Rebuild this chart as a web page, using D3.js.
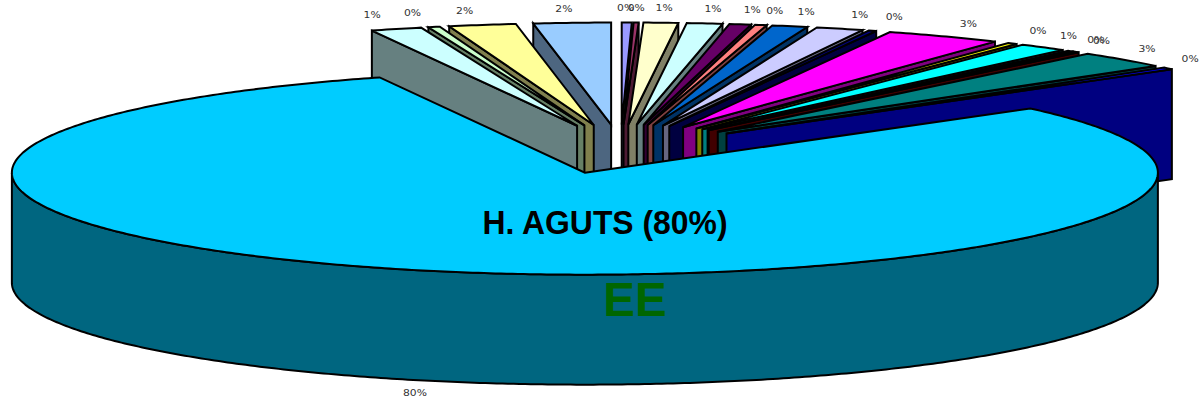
<!DOCTYPE html>
<html><head><meta charset="utf-8">
<script src="https://cdn.jsdelivr.net/npm/d3@7"></script>
<style>html,body{margin:0;padding:0;background:#fff}svg{display:block}</style>
</head><body><div id="chart"></div>
<script>
const shares = [0.28,0.14,0.97,1.0,0.61,0.33,1.0,1.33,0.22,3.28,0.28,1.39,0.17,0.17,2.67,0.33,80,1.44,0.33,1.89,2.17];
const labels = ["0%","0%","1%","1%","1%","0%","1%","1%","0%","3%","0%","1%","0%","0%","3%","0%","80%","1%","0%","2%","2%"];
const colors = ["#9999FF","#993366","#FFFFCC","#CCFFFF","#660066","#FF8080","#0066CC","#CCCCFF","#000080","#FF00FF","#FFFF00","#00FFFF","#800080","#800000","#008080","#0000FF","#00CCFF","#CCFFFF","#CCFFCC","#FFFF99","#99CCFF"];
const mainIndex = 16;
const captions = [["H. AGUTS (80%)"],["EE"]];

const W=1200,H=400, cx=620.5, cy=149, rx=573, ry=102, depth=110, explode=0.24;
const svg=d3.select("#chart").append("svg").attr("width",W).attr("height",H);
const arcs=d3.pie().sort(null).value(d=>d).startAngle(0).endAngle(2*Math.PI)(shares);
const X=d3.scaleLinear().domain([-1,1]).range([-rx,rx]);
const Y=d3.scaleLinear().domain([-1,1]).range([ry,-ry]);
const line=d3.line();
const pts=d=>{
  const m=(d.startAngle+d.endAngle)/2;
  const apex=[cx+explode*X(Math.sin(m)), cy+explode*Y(Math.cos(m))];
  return {m,apex};
};
const onRim=(apex,a,k=1,dz=0)=>[apex[0]+k*X(Math.sin(a)),apex[1]+k*Y(Math.cos(a))+dz];
const rim=(apex,a0,a1,dz=0)=>{
  const n=Math.max(2,Math.ceil(Math.abs(a1-a0)/0.01)),out=[];
  for(let i=0;i<=n;i++) out.push(onRim(apex,a0+(a1-a0)*i/n,1,dz));
  return out;
};
const order=[];
// back to front: outward from twelve o'clock on both sides, main slice last
for(let i=0;i<mainIndex;i++) order.push(i);
for(let i=arcs.length-1;i>mainIndex;i--) order.push(i);
order.push(mainIndex);
const g=svg.append("g").attr("stroke","#000").attr("stroke-width",2).attr("stroke-linejoin","miter");
const dark=c=>{const r=d3.rgb(c);return d3.rgb(r.r/2,r.g/2,r.b/2).formatHex();};
order.forEach(i=>{
  const d=arcs[i],{apex}=pts(d),c=colors[i],w=dark(c);
  if(i===mainIndex){
    // outer wall, only the part that faces the viewer
    const a0=Math.PI/2,a1=3*Math.PI/2;
    const top=rim(apex,a0,a1),bot=rim(apex,a1,a0,depth);
    g.append("path").attr("d",line(top.concat(bot))+"Z").attr("fill",w);
  } else {
    // radial wall: the edge that faces the viewer hangs below it
    const e=i<mainIndex?d.endAngle:d.startAngle;
    const p=onRim(apex,e);
    g.append("path").attr("d",line([apex,p,[p[0],p[1]+depth],[apex[0],apex[1]+depth]])+"Z").attr("fill",w);
  }
  g.append("path").attr("d",line([apex].concat(rim(apex,d.startAngle,d.endAngle)))+"Z").attr("fill",c);
});
// percentage labels
const lab=svg.append("g").attr("font-family","DejaVu Sans").attr("font-size",8).attr("fill","#333");
arcs.forEach((d,i)=>{
  const {m,apex}=pts(d);
  const s=Math.sin(m);
  const x=apex[0]+(1.17-0.15*Math.abs(s))*X(s)-2;
  const y=apex[1]+1.13*Y(Math.cos(m))+(i===mainIndex?depth:0);
  lab.append("text").attr("transform",`translate(${x},${y+2}) scale(1.35,1)`).attr("text-anchor","middle").text(labels[i]);
});
svg.append("text").attr("x",605).attr("y",234).attr("text-anchor","middle")
  .attr("font-family","Liberation Sans").attr("font-weight","bold").attr("font-size",33).attr("fill","#000")
  .attr("textLength",245).attr("lengthAdjust","spacingAndGlyphs").text(captions[0][0]);
svg.append("text").attr("x",635).attr("y",316).attr("text-anchor","middle")
  .attr("font-family","Liberation Sans").attr("font-weight","bold").attr("font-size",47.5).attr("fill","#006600").text(captions[1][0]);
</script></body></html>
